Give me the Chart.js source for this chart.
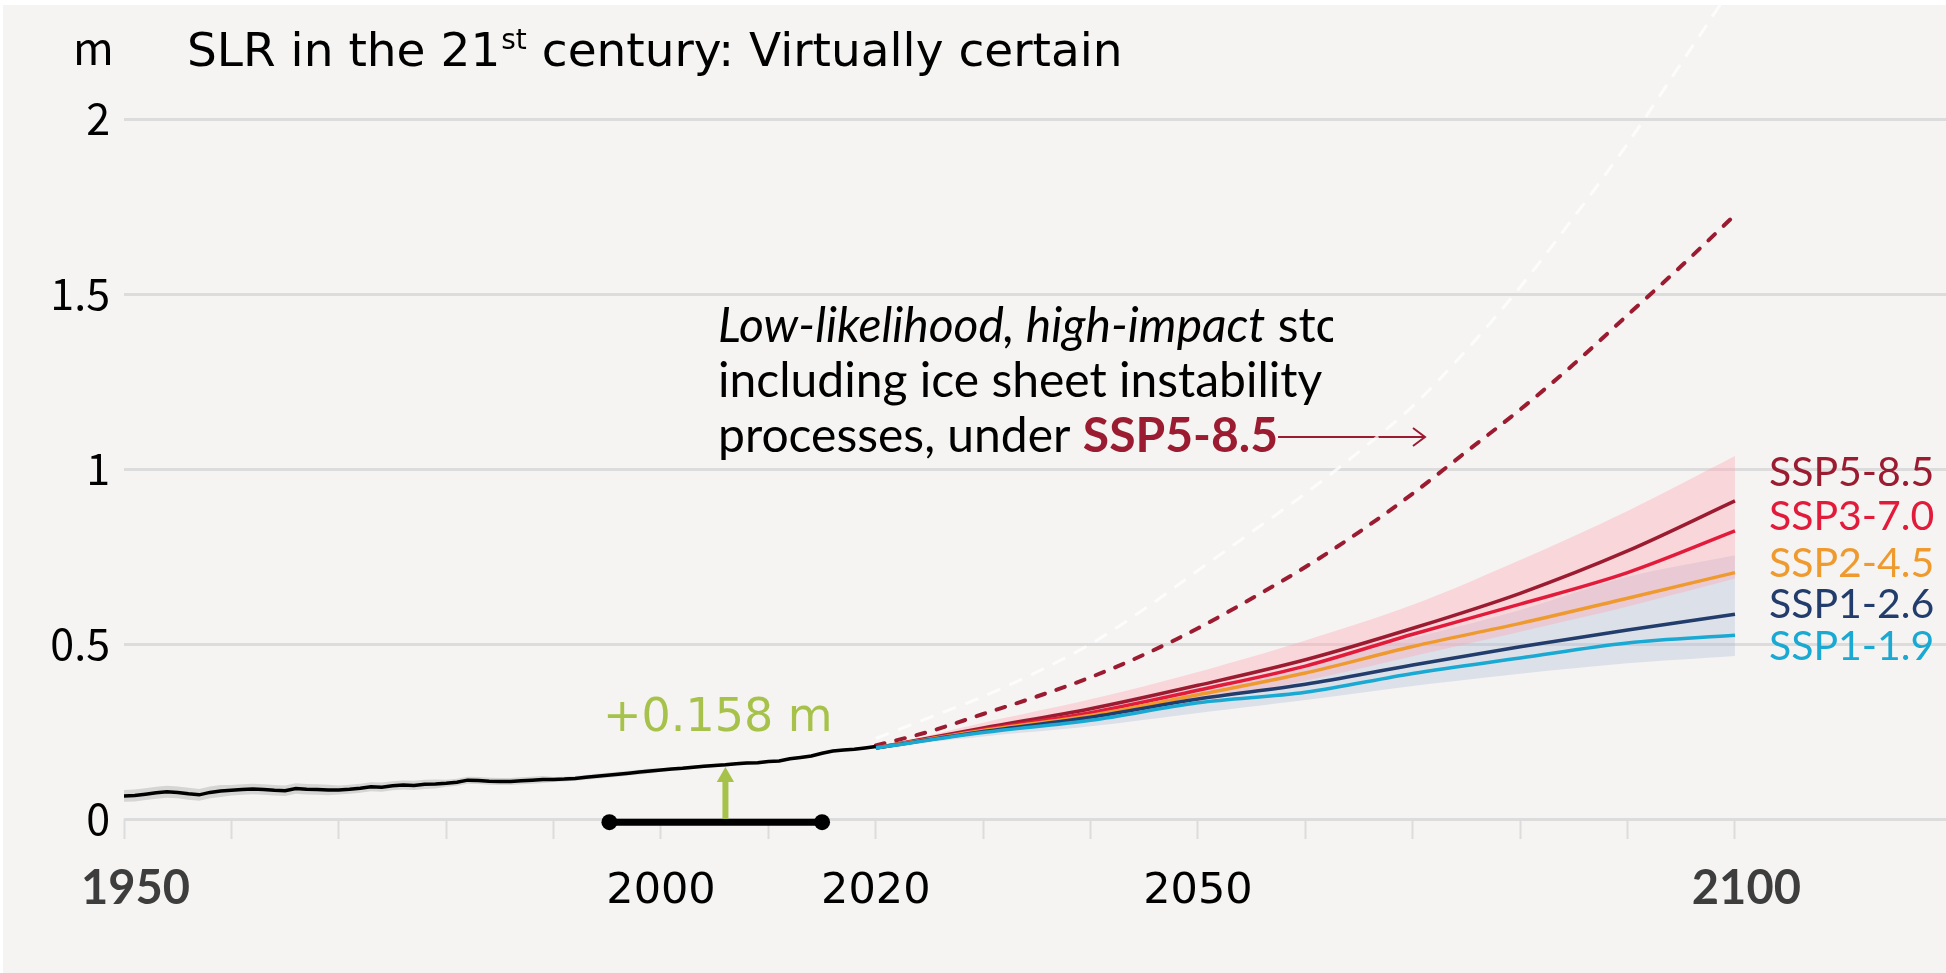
<!DOCTYPE html>
<html>
<head>
<meta charset="utf-8">
<script src="https://cdn.jsdelivr.net/npm/chart.js@4.4.1/dist/chart.umd.min.js"></script>
<style>
  html, body { margin: 0; padding: 0; background: #fff; }
  canvas { display: block; }
</style>
</head>
<body>
<canvas id="slr" width="1946" height="973"></canvas>
<script>
// observed global mean sea level, one value per year from 1950 to 2020 (m)
const histStart = 1950;
const histValues = [
  0.066, 0.067, 0.071, 0.075, 0.078, 0.076, 0.072, 0.069, 0.076, 0.080,
  0.082, 0.084, 0.086, 0.084, 0.082, 0.081, 0.087, 0.085, 0.084, 0.083,
  0.083, 0.085, 0.088, 0.092, 0.091, 0.095, 0.097, 0.096, 0.099, 0.100,
  0.102, 0.105, 0.111, 0.110, 0.108, 0.107, 0.107, 0.109, 0.111, 0.113,
  0.113, 0.114, 0.116, 0.119, 0.122, 0.125, 0.128, 0.131, 0.134, 0.137,
  0.140, 0.143, 0.145, 0.148, 0.151, 0.153, 0.155, 0.158, 0.160, 0.161,
  0.164, 0.166, 0.172, 0.176, 0.180, 0.188, 0.194, 0.197, 0.199, 0.203,
  0.207
];
// half width of the grey uncertainty band, per decade
const histSpread = [0.017, 0.015, 0.013, 0.010, 0.007, 0.005, 0.004, 0.004];

// scenario projections
const projYears = [2020, 2030, 2040, 2050, 2060, 2070, 2080, 2090, 2100];
const ssp585 = [0.203, 0.260, 0.315, 0.382, 0.455, 0.545, 0.645, 0.766, 0.909];
const ssp370 = [0.203, 0.256, 0.304, 0.368, 0.437, 0.528, 0.614, 0.704, 0.823];
const ssp245 = [0.203, 0.253, 0.296, 0.355, 0.417, 0.493, 0.559, 0.631, 0.704];
const ssp126 = [0.203, 0.250, 0.291, 0.343, 0.385, 0.440, 0.492, 0.540, 0.585];
const ssp119 = [0.203, 0.247, 0.282, 0.332, 0.362, 0.416, 0.460, 0.503, 0.525];
const ssp585High = [0.203, 0.275, 0.342, 0.420, 0.510, 0.612, 0.740, 0.880, 1.037];
const ssp585Low = [0.203, 0.245, 0.285, 0.335, 0.395, 0.465, 0.535, 0.607, 0.687];
const ssp126High = [0.203, 0.262, 0.315, 0.375, 0.440, 0.517, 0.597, 0.692, 0.754];
const ssp126Low = [0.203, 0.236, 0.265, 0.303, 0.340, 0.380, 0.415, 0.445, 0.466];

// low-likelihood, high-impact storyline (SSP5-8.5)
const llhiYears = [2020, 2025, 2030, 2035, 2040, 2045, 2050, 2055, 2060,
                   2065, 2070, 2075, 2080, 2085, 2090, 2095, 2100];
const llhiValues = [0.21, 0.25, 0.30, 0.35, 0.405, 0.47, 0.545, 0.63, 0.72,
                    0.82, 0.93, 1.05, 1.17, 1.30, 1.44, 1.58, 1.726];
const llhiUpper = [0.23, 0.29, 0.35, 0.42, 0.50, 0.60, 0.71, 0.82, 0.93,
                   1.05, 1.18, 1.34, 1.52, 1.72, 1.93, 2.16, 2.39];

// 1995-2014 reference period and the rise since it
const refPeriod = [1995.2, 2015];
const refArrowYear = 2006;
const refArrowTop = 0.12;

const sspNames = ['SSP5-8.5', 'SSP3-7.0', 'SSP2-4.5', 'SSP1-2.6', 'SSP1-1.9'];
const sspColors = ['#9b1c31', '#e31b3b', '#ef9a2f', '#223d6b', '#19a9d2'];
const sspLabelY = [0.989, 0.863, 0.729, 0.611, 0.491];

const xTickYears = [1950, 1960, 1970, 1980, 1990, 2000, 2010, 2020, 2030,
                    2040, 2050, 2060, 2070, 2080, 2090, 2100];
const xLabelYears = [1950, 2000, 2020, 2050, 2100];
const xBoldYears = [1950, 2100];
const yTicks = [0, 0.5, 1, 1.5, 2];

const GREEN = '#a6c24a';
const CJK = '"Noto Sans CJK JP", "Noto Sans", sans-serif';
const DEJAVU = '"DejaVu Sans", sans-serif';

function pts(xs, ys) {
  return xs.map((x, i) => ({x: x, y: ys[i]}));
}

const histPts = histValues.map((v, i) => ({x: histStart + i, y: v}));
const histHigh = histValues.map((v, i) => ({x: histStart + i, y: v + histSpread[Math.floor(i / 10)]}));
const histLow = histValues.map((v, i) => ({x: histStart + i, y: v - histSpread[Math.floor(i / 10)]}));

const bandLine = {borderWidth: 0, pointRadius: 0, tension: 0.35};
const sspSeries = [ssp585, ssp370, ssp245, ssp126, ssp119];

const datasets = [
  // grey band round the observations
  {...bandLine, data: histHigh, fill: '+1', backgroundColor: 'rgba(170,170,170,0.42)', order: 30, tension: 0},
  {...bandLine, data: histLow, fill: false, order: 31, tension: 0},
  // SSP1-2.6 likely range
  {...bandLine, data: pts(projYears, ssp126High), fill: '+1', backgroundColor: 'rgba(168,184,215,0.32)', order: 28},
  {...bandLine, data: pts(projYears, ssp126Low), fill: false, order: 29},
  // SSP5-8.5 likely range
  {...bandLine, data: pts(projYears, ssp585High), fill: '+1', backgroundColor: 'rgba(255,165,180,0.38)', order: 26},
  {...bandLine, data: pts(projYears, ssp585Low), fill: false, order: 27},
  // storyline
  {data: pts(llhiYears, llhiUpper), borderColor: 'rgba(255,255,255,0.75)', borderWidth: 3,
   borderDash: [14, 10], pointRadius: 0, cubicInterpolationMode: 'monotone', fill: false, order: 20},
  {data: pts(llhiYears, llhiValues), borderColor: '#9b1c31', borderWidth: 4, borderCapStyle: 'round',
   borderDash: [9, 12], pointRadius: 0, cubicInterpolationMode: 'monotone', fill: false, order: 19},
];

sspSeries.forEach((s, i) => {
  datasets.push({
    label: sspNames[i], data: pts(projYears, s), borderColor: sspColors[i], borderWidth: 3.5,
    pointRadius: 0, cubicInterpolationMode: 'monotone', fill: false, order: 14 - i
  });
});

datasets.push(
  {data: histPts, borderColor: '#000', borderWidth: 3.5, pointRadius: 0, tension: 0, fill: false, order: 5},
  {data: [{x: refPeriod[0], y: -0.009}, {x: refPeriod[1], y: -0.009}], borderColor: '#000', borderWidth: 7,
   pointRadius: 8, pointBackgroundColor: '#000', pointBorderWidth: 0, clip: false, fill: false, order: 3},
  {data: [{x: refArrowYear, y: 0}, {x: refArrowYear, y: refArrowTop}], borderColor: GREEN, borderWidth: 6,
   pointRadius: [0, 10], pointStyle: 'triangle', pointBackgroundColor: GREEN, pointBorderWidth: 0,
   clip: false, fill: false, order: 2}
);

const decorations = {
  id: 'decorations',
  beforeDraw(chart) {
    const ctx = chart.ctx;
    ctx.save();
    ctx.fillStyle = '#ffffff';
    ctx.fillRect(0, 0, chart.width, chart.height);
    ctx.fillStyle = '#f5f4f2';
    ctx.fillRect(3, 5, chart.width - 3, chart.height - 5);
    ctx.restore();
  },
  beforeDatasetsDraw(chart) {
    const ctx = chart.ctx;
    ctx.save();
    ctx.textBaseline = 'alphabetic';
    ctx.fillStyle = '#000';

    // unit and title
    ctx.font = '44px ' + CJK;
    ctx.fillText('m', 73, 65);
    let tx = 187;
    const part1 = 'SLR in the 21';
    ctx.font = '47px ' + DEJAVU;
    ctx.fillText(part1, tx, 66);
    tx += ctx.measureText(part1).width;
    ctx.font = '28px ' + DEJAVU;
    ctx.fillText('st', tx + 1, 49);
    tx += ctx.measureText('st').width + 1;
    ctx.font = '47px ' + DEJAVU;
    ctx.fillText(' century: Virtually certain', tx, 66);

    // storyline note, cut at the right like the original
    ctx.save();
    ctx.beginPath();
    ctx.rect(0, 0, 1333, chart.height);
    ctx.clip();
    ctx.font = 'italic 48px Lato';
    const it = 'Low-likelihood, high-impact';
    ctx.fillText(it, 718, 342);
    const w = ctx.measureText(it).width;
    ctx.font = '48px Lato';
    ctx.fillText(' storyline,', 718 + w, 342);
    ctx.restore();
    ctx.font = '48px Lato';
    ctx.fillText('including ice sheet instability', 718, 397);
    const p = 'processes, under ';
    ctx.fillText(p, 718, 452);
    const px = 718 + ctx.measureText(p).width;
    ctx.font = 'bold 48px Lato';
    ctx.fillStyle = '#9b1c31';
    ctx.fillText('SSP5-8.5', px, 452);
    const ax0 = px + ctx.measureText('SSP5-8.5').width;
    ctx.strokeStyle = '#9b1c31';
    ctx.lineWidth = 2;
    ctx.beginPath();
    ctx.moveTo(ax0, 437);
    ctx.lineTo(1425, 437);
    ctx.moveTo(1413, 428);
    ctx.lineTo(1425, 437);
    ctx.lineTo(1413, 446);
    ctx.stroke();

    // rise since the reference period
    ctx.fillStyle = GREEN;
    ctx.font = '46px ' + DEJAVU;
    ctx.fillText('+0.158 m', 603, 731);
    ctx.restore();
  },
  afterDraw(chart) {
    const ctx = chart.ctx;
    const xs = chart.scales.x, ys = chart.scales.y;
    ctx.save();
    ctx.font = '41px Lato';
    ctx.textBaseline = 'middle';
    sspNames.forEach((n, i) => {
      ctx.fillStyle = sspColors[i];
      ctx.fillText(n, xs.getPixelForValue(2100) + 34, ys.getPixelForValue(sspLabelY[i]));
    });
    ctx.restore();
  }
};

new Chart(document.getElementById('slr'), {
  type: 'line',
  data: {datasets: datasets},
  options: {
    responsive: false,
    devicePixelRatio: 1,
    animation: false,
    events: [],
    layout: {autoPadding: false, padding: {top: 5, left: 0, right: 0, bottom: 0}},
    plugins: {legend: {display: false}, tooltip: {enabled: false}},
    scales: {
      x: {
        type: 'linear',
        min: 1950,
        max: 2119.65,
        afterBuildTicks: (s) => { s.ticks = xTickYears.map(v => ({value: v})); },
        afterFit: (s) => { s.height = 154; s.paddingLeft = 0; s.paddingRight = 0; },
        border: {display: false},
        grid: {drawOnChartArea: false, drawTicks: true, tickLength: 20, tickColor: '#dcdcdc', tickWidth: 2},
        ticks: {
          autoSkip: false,
          maxRotation: 0,
          padding: 22,
          // the two bold labels sit a little right of their ticks
          callback: (v) => xLabelYears.includes(v) ? (xBoldYears.includes(v) ? '  ' + v : String(v)) : '',
          font: (c) => (c.tick && xBoldYears.includes(c.tick.value))
            ? {family: 'Lato', size: 47, weight: 'bold'}
            : {family: DEJAVU, size: 43, lineHeight: 1.43},
          color: (c) => (c.tick && xBoldYears.includes(c.tick.value)) ? '#3d3d3d' : '#000'
        }
      },
      y: {
        type: 'linear',
        min: 0,
        max: 2.326,
        afterBuildTicks: (s) => { s.ticks = yTicks.map(v => ({value: v})); },
        afterFit: (s) => { s.width = 124; s.paddingTop = 0; s.paddingBottom = 0; },
        border: {display: false},
        grid: {color: '#dcdcdc', lineWidth: 3, drawTicks: false, tickLength: 0},
        ticks: {
          padding: 14,
          color: '#000',
          font: {family: CJK, size: 43},
          callback: (v) => String(v)
        }
      }
    }
  },
  plugins: [decorations]
});
</script>
</body>
</html>
